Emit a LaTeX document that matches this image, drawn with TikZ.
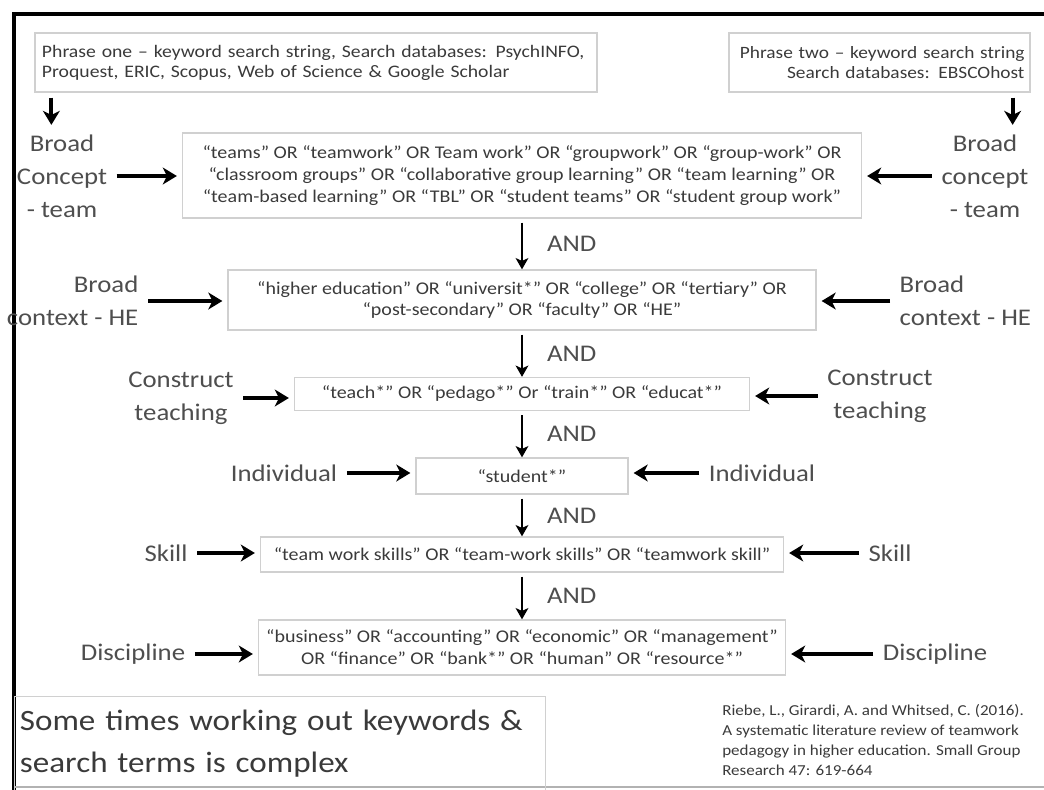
\documentclass[tikz,border=0pt]{standalone}
\usepackage{fontspec}
\setmainfont[FakeStretch=1.12]{Carlito}
\usetikzlibrary{arrows.meta, positioning}

\newcommand{\pxu}{0.025cm}
\definecolor{boxline}{HTML}{D0D0D0}
\definecolor{txt}{HTML}{3A3A3A}
\definecolor{labtxt}{HTML}{4E4E4E}

\begin{document}
\begin{tikzpicture}[x=\pxu, y=-\pxu,
    box/.style={draw=boxline, line width=0.9pt, text=txt, align=center,
        font=\fontsize{12.7}{15.6}\selectfont, inner sep=0pt},
    lab/.style={text=labtxt, align=center, font=\fontsize{17}{23.5}\selectfont, inner sep=1pt},
    arr/.style={-{Stealth[length=10pt,width=12pt,inset=3pt]}, line width=2.8pt,
        shorten <=8*\pxu, shorten >=5*\pxu},
    andarr/.style={-{Stealth[length=8pt,width=9pt,inset=2pt]}, line width=1.6pt, shorten <=4*\pxu},
    andlab/.style={text=labtxt, font=\fontsize{17}{20}\selectfont, inner sep=0pt,
        anchor=west, xshift=24*\pxu}]

    \useasboundingbox (0,0) rectangle (1044,789);

    % outer frame
    \draw[line width=3pt] (14,800) -- (14,14) -- (1060,14);
    \draw[gray!60, line width=1.2pt] (14,787) -- (1044,787);

    % search phrases
    \node [box, align=left, text width=548*\pxu, minimum width=562*\pxu, minimum height=59*\pxu,
           font=\fontsize{12.5}{14.2}\selectfont] (h1) at (316,62.5)
        {Phrase one -- keyword search string, Search databases: PsychINFO,\\Proquest, ERIC, Scopus, Web of Science \& Google Scholar};
    \node [box, align=right, text width=290*\pxu, minimum width=301*\pxu, minimum height=59*\pxu,
           font=\fontsize{12.3}{14.2}\selectfont] (h2) at (879.5,62.5)
        {Phrase two -- keyword search string\\Search databases: EBSCOhost};

    % search strings
    \node [box, minimum width=679*\pxu, minimum height=85*\pxu] (k1) at (522,175.5)
        {``teams'' OR ``teamwork'' OR Team work'' OR ``groupwork'' OR ``group-work'' OR\\
         ``classroom groups'' OR ``collaborative group learning'' OR ``team learning'' OR\\
         ``team-based learning'' OR ``TBL'' OR ``student teams'' OR ``student group work''};
    \node [box, minimum width=588*\pxu, minimum height=60*\pxu] (k2) at (522,300)
        {``higher education'' OR ``universit*'' OR ``college'' OR ``tertiary'' OR\\
         ``post-secondary'' OR ``faculty'' OR ``HE''};
    \node [box, minimum width=455*\pxu, minimum height=33*\pxu] (k3) at (522,394)
        {``teach*'' OR ``pedago*'' Or ``train*'' OR ``educat*''};
    \node [box, minimum width=212*\pxu, minimum height=36*\pxu] (k4) at (522,476)
        {``student*''};
    \node [box, minimum width=523*\pxu, minimum height=35*\pxu] (k5) at (522,554.5)
        {``team work skills'' OR ``team-work skills'' OR ``teamwork skill''};
    \node [box, minimum width=527*\pxu, minimum height=55*\pxu] (k6) at (522,647.5)
        {``business'' OR ``accounting'' OR ``economic'' OR ``management''\\
         OR ``finance'' OR ``bank*'' OR ``human'' OR ``resource*''};

    % concepts, left
    \node [lab] (lb1) at (62,176) {Broad\\Concept\\- team};
    \node [lab, align=right, anchor=east] (lb2) at (140,301) {Broad\\context - HE};
    \node [lab] (lb3) at (181,398) {Construct\\teaching};
    \node [lab] (lb4) at (284,473) {Individual};
    \node [lab] (lb5) at (166,553) {Skill};
    \node [lab] (lb6) at (133,654) {Discipline};

    % concepts, right
    \node [lab] (rb1) at (985,176) {Broad\\concept\\- team};
    \node [lab, align=left, anchor=west] (rb2) at (898,301) {Broad\\context - HE};
    \node [lab] (rb3) at (880,396) {Construct\\teaching};
    \node [lab] (rb4) at (762,473) {Individual};
    \node [lab] (rb5) at (890,553) {Skill};
    \node [lab] (rb6) at (935,654) {Discipline};

    % note and source
    \node [draw=boxline, line width=0.9pt, anchor=north west, align=left, text=txt,
           font=\fontsize{21}{30}\selectfont, inner sep=0pt, text width=526*\pxu,
           minimum width=531*\pxu, minimum height=94*\pxu] (note) at (14,696)
        {\hspace*{2pt}Some times working out keywords \&\\\hspace*{2pt}search terms is complex};
    \node [anchor=west, align=left, text=txt, font=\fontsize{10.8}{14.2}\selectfont, inner sep=0pt] (src) at (722,740)
        {Riebe, L., Girardi, A. and Whitsed, C. (2016).\\A systematic literature review of teamwork\\
         pedagogy in higher education. Small Group\\Research 47: 619-664};

    % arrows
    \draw [arr, shorten <=5*\pxu, shorten >=8*\pxu] ([xshift=17*\pxu]h1.south west) -- ([xshift=17*\pxu]h1.south west |- lb1.north);
    \draw [arr, shorten <=5*\pxu, shorten >=8*\pxu] ([xshift=-18*\pxu]h2.south east) -- ([xshift=-18*\pxu]h2.south east |- rb1.north);

    \draw [arr] (lb1.east) -- (lb1.east -| k1.west);
    \draw [arr] (lb2.east) -- (lb2.east -| k2.west);
    \draw [arr] (lb3.east) -- (lb3.east -| k3.west);
    \draw [arr] (lb4.east) -- (lb4.east -| k4.west);
    \draw [arr] (lb5.east) -- (lb5.east -| k5.west);
    \draw [arr] (lb6.east) -- (lb6.east -| k6.west);

    \draw [arr] (rb1.west) -- (rb1.west -| k1.east);
    \draw [arr] (rb2.west) -- (rb2.west -| k2.east);
    \draw [arr] (rb3.west) -- (rb3.west -| k3.east);
    \draw [arr] (rb4.west) -- (rb4.west -| k4.east);
    \draw [arr] (rb5.west) -- (rb5.west -| k5.east);
    \draw [arr] (rb6.west) -- (rb6.west -| k6.east);

    \draw [andarr] (k1) -- node [andlab] {AND} (k2);
    \draw [andarr] (k2) -- node [andlab] {AND} (k3);
    \draw [andarr] (k3) -- node [andlab] {AND} (k4);
    \draw [andarr] (k4) -- node [andlab] {AND} (k5);
    \draw [andarr] (k5) -- node [andlab] {AND} (k6);
\end{tikzpicture}
\end{document}
